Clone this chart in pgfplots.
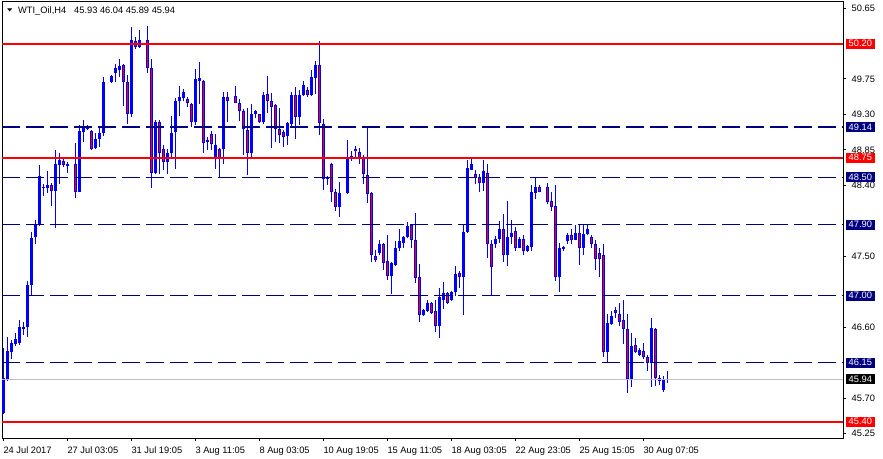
\documentclass[border=0pt]{standalone}
\usepackage{fontspec}
\setmainfont{Liberation Sans}
\newfontfamily\dejavu{DejaVu Sans}
\usepackage{pgfplots}
\usepackage{pgfplotstable}
\pgfplotsset{compat=1.18}
\definecolor{mtnavy}{RGB}{0,0,128}
\definecolor{mtgray}{RGB}{192,192,192}
\definecolor{mtblue}{RGB}{0,0,255}
\definecolor{mtred}{RGB}{255,0,0}

% H4 bars: index, open, high, low, close
\pgfplotstableread{
i o h l c
0 45.51 46.33 45.50 45.95
1 45.94 46.48 45.91 46.30
2 46.28 46.44 46.20 46.40
3 46.39 46.53 46.36 46.45
4 46.40 46.69 46.37 46.60
5 46.58 46.67 46.50 46.60
6 46.60 47.18 46.48 47.14
7 47.14 47.81 47.01 47.73
8 47.74 47.96 47.66 47.90
9 47.90 48.66 47.89 48.52
10 48.36 48.42 48.27 48.38
11 48.37 48.58 48.30 48.40
12 48.41 48.43 48.14 48.33
13 48.33 48.85 47.86 48.67
14 48.66 48.81 48.42 48.72
15 48.71 48.74 48.63 48.66
16 48.65 48.70 48.56 48.67
18 48.67 48.94 48.24 48.32
19 48.32 49.17 48.31 49.09
20 49.08 49.23 48.95 49.14
21 49.12 49.16 49.10 49.14
22 49.09 49.10 48.85 48.86
23 48.88 49.06 48.86 48.99
24 48.99 49.14 48.89 49.07
25 49.07 49.77 49.03 49.71
27 49.71 49.80 49.70 49.79
28 49.83 49.94 49.71 49.89
29 49.86 50.01 49.78 49.92
30 49.93 49.94 49.41 49.71
31 49.71 49.80 49.18 49.30
32 49.31 50.41 49.27 50.25
33 50.23 50.28 50.13 50.15
34 50.15 50.37 50.14 50.25
36 50.25 50.42 49.83 49.89
37 49.89 50.00 48.37 48.56
38 48.56 49.23 48.55 49.20
39 49.20 49.23 48.54 48.81
40 48.86 48.91 48.59 48.70
41 48.70 48.86 48.54 48.81
42 48.81 49.28 48.76 49.07
43 49.08 49.51 48.61 49.47
44 49.47 49.66 49.28 49.52
45 49.51 49.62 49.47 49.58
46 49.49 49.52 49.39 49.44
47 49.43 49.44 49.14 49.21
48 49.21 49.88 49.16 49.75
49 49.73 49.96 49.43 49.76
50 49.73 49.74 48.81 48.94
51 48.95 49.01 48.85 48.98
52 49.05 49.09 48.85 48.92
53 48.75 49.05 48.61 48.91
54 48.86 48.87 48.49 48.75
55 48.86 49.59 48.67 49.52
56 49.52 49.59 49.20 49.47
58 49.53 49.66 49.44 49.45
59 49.44 49.50 49.22 49.34
60 49.34 49.37 48.79 49.11
61 49.10 49.38 48.53 48.81
62 48.81 49.43 48.76 49.30
63 49.31 49.36 49.26 49.34
64 49.30 49.31 49.19 49.21
65 49.21 49.59 49.18 49.55
66 49.56 49.79 49.32 49.47
67 49.47 49.57 48.88 49.40
68 49.42 49.43 48.95 49.11
69 49.11 49.38 48.94 49.04
70 49.08 49.10 48.89 49.01
71 49.02 49.21 48.91 49.19
72 49.18 49.58 49.14 49.55
73 49.55 49.65 48.99 49.27
74 49.27 49.61 49.17 49.55
75 49.55 49.72 49.53 49.68
76 49.61 49.65 49.52 49.55
77 49.55 49.87 49.53 49.77
78 49.76 49.98 49.56 49.93
79 49.93 50.23 49.04 49.19
80 49.18 49.24 48.34 48.48
81 48.48 48.52 48.40 48.50
82 48.67 48.68 48.19 48.32
83 48.32 48.35 48.07 48.12
84 48.13 48.44 48.00 48.30
86 48.30 48.97 48.29 48.76
87 48.77 48.84 48.71 48.74
88 48.86 48.90 48.76 48.83
89 48.82 48.87 48.67 48.75
90 48.75 48.79 48.42 48.54
91 48.53 49.14 48.18 48.29
92 48.30 48.31 47.43 47.51
93 47.50 47.58 47.43 47.45
94 47.54 47.70 47.52 47.65
95 47.66 47.67 47.33 47.42
96 47.44 47.77 47.20 47.25
97 47.25 47.43 47.02 47.42
98 47.39 47.69 47.37 47.60
99 47.60 47.84 47.57 47.69
100 47.67 47.76 47.61 47.74
101 47.75 47.94 47.73 47.88
102 47.90 47.91 47.60 47.71
103 47.71 48.05 47.16 47.22
104 47.23 47.40 46.67 46.75
105 46.75 46.83 46.74 46.82
106 46.80 46.94 46.79 46.90
107 46.91 46.92 46.77 46.78
108 46.80 46.94 46.54 46.62
109 46.61 47.10 46.46 46.98
110 46.94 47.17 46.83 47.03
111 47.03 47.04 46.89 46.91
112 46.94 47.06 46.93 47.04
113 47.04 47.38 47.00 47.27
114 47.29 47.31 47.10 47.23
115 47.23 47.90 46.75 47.81
116 47.81 48.72 47.79 48.62
117 48.60 48.74 48.59 48.67
118 48.54 48.59 48.42 48.49
119 48.50 48.55 48.31 48.43
120 48.43 48.72 48.33 48.58
121 48.56 48.67 47.48 47.65
122 47.65 47.71 47.01 47.36
123 47.66 47.76 47.60 47.72
124 47.72 47.95 47.67 47.84
125 47.84 48.04 47.43 47.52
126 47.52 48.20 47.37 47.74
127 47.74 47.96 47.66 47.80
128 47.82 47.87 47.57 47.61
129 47.61 47.74 47.60 47.72
130 47.72 47.77 47.52 47.57
131 47.57 47.64 47.56 47.63
132 47.62 48.41 47.57 48.31
133 48.30 48.51 48.23 48.38
134 48.38 48.41 48.31 48.32
136 48.38 48.43 48.16 48.19
137 48.20 48.31 48.08 48.13
138 48.14 48.40 47.18 47.23
139 47.23 47.67 47.05 47.61
140 47.59 47.63 47.57 47.62
141 47.69 47.80 47.66 47.77
142 47.77 47.85 47.66 47.71
143 47.71 47.90 47.70 47.80
144 47.79 47.90 47.39 47.61
145 47.61 47.90 47.52 47.78
146 47.78 47.90 47.77 47.85
147 47.75 47.77 47.61 47.66
148 47.66 47.70 47.33 47.47
149 47.54 47.60 47.23 47.47
150 47.52 47.66 46.22 46.29
151 46.29 46.77 46.15 46.65
152 46.64 46.81 46.63 46.74
153 46.82 46.86 46.71 46.78
154 46.77 46.90 46.61 46.67
155 46.69 46.95 46.39 46.57
156 46.57 46.77 45.76 45.94
157 45.94 46.53 45.84 46.36
158 46.37 46.46 46.27 46.29
159 46.25 46.33 46.23 46.31
160 46.30 46.40 46.20 46.22
161 46.22 46.25 46.04 46.15
162 46.14 46.72 45.84 46.59
163 46.57 46.59 45.85 45.95
164 45.95 45.99 45.86 45.92
165 45.80 45.98 45.78 45.94
166 45.93 46.04 45.89 45.94
}\ohlc

\begin{document}
\begin{tikzpicture}[font=\fontsize{9.3bp}{11bp}\selectfont]
\begin{axis}[
  at={(2bp,21bp)}, anchor=south west,
  scale only axis, width=841bp, height=436bp,
  xmin=-0.33, xmax=209.92, ymin=45.1924, ymax=50.7275,
  axis line style={black, line width=1bp},
  tick style={black, line width=1bp},
  tick align=outside, major tick length=3bp,
  xtick={0,16,32,48,64,80,96,112,128,144,160},
  xticklabels={24 Jul 2017, 27 Jul 03:05, 31 Jul 19:05, 3 Aug 11:05, 8 Aug 03:05, 10 Aug 19:05, 15 Aug 11:05, 18 Aug 03:05, 22 Aug 23:05, 25 Aug 15:05, 30 Aug 07:05},
  xtick pos=left,
  xticklabel style={anchor=base west, inner sep=0pt, yshift=-12.5bp},
  ytick={45.25,45.70,46.60,47.50,48.40,48.85,49.30,49.75,50.65},
  yticklabels={45.25,45.70,46.60,47.50,48.40,48.85,49.30,49.75,50.65},
  ytick pos=right, yticklabel pos=right,
  yticklabel style={anchor=west, inner sep=0pt, xshift=5.5bp},
  candle/.style={draw=none, no markers, forget plot,
    error bars/.cd, y dir=plus, y explicit, error mark=none},
]
% wicks
\addplot[candle, error bar style={draw=mtblue, solid, line width=1bp}]
  table[x=i, y=l, y error expr={\thisrow{h}-\thisrow{l}}] {\ohlc};
% bodies
\addplot[candle, error bar style={draw=mtblue, solid, line width=3bp}]
  table[x=i, y expr={min(\thisrow{o},\thisrow{c})}, y error expr={abs(\thisrow{c}-\thisrow{o})}] {\ohlc};
% red fill of falling bars
\addplot[candle, error bar style={draw=mtred, solid, line width=1bp}]
  table[x=i, y expr={\thisrow{c}+0.0127}, y error expr={max(\thisrow{o}-\thisrow{c}-0.0254,0)}] {\ohlc};

% levels
\addplot[mtgray, line width=1bp] coordinates {(-0.33,45.94) (209.92,45.94)};
\addplot[mtnavy, line width=1.3bp, dash pattern=on 18bp off 6bp] coordinates {(-0.33,49.14) (209.92,49.14)};
\addplot[mtnavy, line width=1.3bp, dash pattern=on 18bp off 6bp] coordinates {(-0.33,48.50) (209.92,48.50)};
\addplot[mtnavy, line width=1.3bp, dash pattern=on 18bp off 6bp] coordinates {(-0.33,47.90) (209.92,47.90)};
\addplot[mtnavy, line width=1.3bp, dash pattern=on 18bp off 6bp] coordinates {(-0.33,47.00) (209.92,47.00)};
\addplot[mtnavy, line width=1.3bp, dash pattern=on 18bp off 6bp] coordinates {(-0.33,46.15) (209.92,46.15)};
\addplot[mtred, line width=2bp] coordinates {(-0.33,50.20) (209.92,50.20)};
\addplot[mtred, line width=2bp] coordinates {(-0.33,48.75) (209.92,48.75)};
\addplot[mtred, line width=2bp] coordinates {(-0.33,45.40) (209.92,45.40)};

\coordinate (p1) at (axis cs:209.92,50.20);
\coordinate (p2) at (axis cs:209.92,49.14);
\coordinate (p3) at (axis cs:209.92,48.75);
\coordinate (p4) at (axis cs:209.92,48.50);
\coordinate (p5) at (axis cs:209.92,47.90);
\coordinate (p6) at (axis cs:209.92,47.00);
\coordinate (p7) at (axis cs:209.92,46.15);
\coordinate (p8) at (axis cs:209.92,45.94);
\coordinate (p9) at (axis cs:209.92,45.40);
\end{axis}

\tikzset{lvl/.style={anchor=west, xshift=2.7bp, text=white, inner xsep=2.8bp, inner ysep=0pt, minimum height=10bp}}
\node[lvl, fill=mtred]  at (p1) {50.20};
\node[lvl, fill=mtnavy] at (p2) {49.14};
\node[lvl, fill=mtred]  at (p3) {48.75};
\node[lvl, fill=mtnavy] at (p4) {48.50};
\node[lvl, fill=mtnavy] at (p5) {47.90};
\node[lvl, fill=mtnavy] at (p6) {47.00};
\node[lvl, fill=mtnavy] at (p7) {46.15};
\node[lvl, fill=black]  at (p8) {45.94};
\node[lvl, fill=mtred]  at (p9) {45.40};

\node[inner sep=0pt] at (9.8bp,448.3bp) {\dejavu\fontsize{7bp}{7bp}\selectfont\scalebox{1}[0.6]{▼}};
\node[anchor=base west, inner sep=0pt] at (18bp,445bp) {WTI\_Oil,H4};
\node[anchor=base west, inner sep=0pt] at (74bp,445bp) {45.93 46.04 45.89 45.94};

\pgfresetboundingbox
\useasboundingbox (0,0) rectangle (883bp,459bp);
\end{tikzpicture}
\end{document}
